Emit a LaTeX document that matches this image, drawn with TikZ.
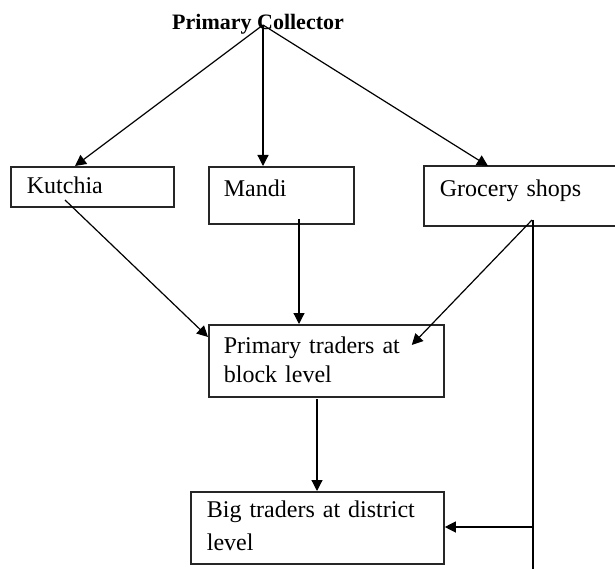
\documentclass[tikz,border=0pt]{standalone}
\usepackage{fontspec}
\setmainfont{Liberation Serif}
\usetikzlibrary{arrows.meta,calc}
\begin{document}
\begin{tikzpicture}[x=1pt,y=-1pt,
  box/.style={draw=black!85, line width=1.8pt, anchor=north west, inner ysep=0pt, align=left},
  arr/.style={line width=1.2pt, -{Triangle[length=11pt,width=11pt]}},
  ln/.style={line width=1.5pt}]
\useasboundingbox (0,0) rectangle (615,569);
\node[font=\bfseries\fontsize{22}{26}\selectfont, anchor=base west, inner sep=0pt] (pc) at (172,30) {Primary Collector};
\coordinate (src) at (263,25);
\node[box, font=\fontsize{24}{29}\selectfont, inner xsep=16pt, text width=131pt, text height=27pt, text depth=13pt] (k) at (10,166) {Kutchia};
\node[box, font=\fontsize{24}{29}\selectfont, inner xsep=15pt, text width=115pt, text height=30pt, text depth=27pt] (m) at (208,166) {Mandi};
\node[box, draw=none, font=\fontsize{24}{29}\selectfont, inner xsep=15pt, text width=161pt, text height=30pt, text depth=28pt] (g) at (424,166) {Grocery shops};
\draw[draw=black!85, line width=1.8pt] (g.north east) -- (g.north west) -- (g.south west) -- (g.south east);
\node[box, font=\fontsize{24}{29}\selectfont, inner xsep=15pt, text width=205pt, text height=29pt, text depth=43pt] (p) at (208,324) {Primary traders at\\block level};
\node[box, font=\fontsize{24}{33}\selectfont, inner xsep=16pt, text width=221pt, text height=26pt, text depth=46pt] (b) at (190,491) {Big traders at district\\level};
% start points inside boxes
\coordinate (kout) at (65,200);
\coordinate (mout) at (299,219);
\coordinate (gout) at (532,220);
\coordinate (pout) at (317,399);
\coordinate (gv) at (533,220);
\coordinate (gbend) at (533,527);
\coordinate (gend) at (533,569);
% arrows from primary collector
\draw[arr] (src) -- (75,0 |- k.north);
\draw[arr] (src) -- (263,0 |- m.north);
\draw[arr] (src) -- (488,0 |- g.north);
% to primary traders
\draw[arr] (kout) -- (p.west |- 0,337);
\draw[arr] (mout) -- (299,0 |- p.north);
\draw[arr] (gout) -- ($(p.north east)+(-33,21)$);
% to big traders
\draw[arr] (pout) -- (317,0 |- b.north);
\draw[ln] (gv) -- (gend);
\draw[arr] (gbend) -- (b.east |- gbend);
\end{tikzpicture}
\end{document}
